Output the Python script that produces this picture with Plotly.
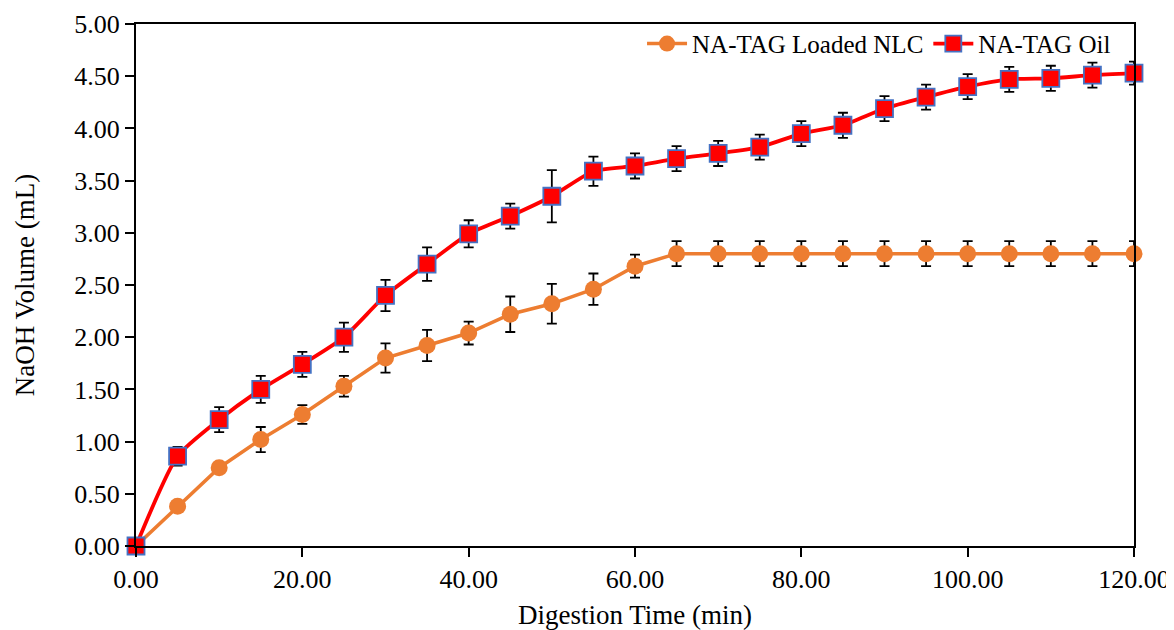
import plotly.graph_objects as go

time_min = [0, 5, 10, 15, 20, 25, 30, 35, 40, 45, 50, 55, 60, 65, 70, 75, 80, 85, 90, 95, 100, 105, 110, 115, 120]

nlc_vol = [0.00, 0.38, 0.75, 1.02, 1.26, 1.53, 1.80, 1.92, 2.04, 2.22, 2.32, 2.46, 2.68, 2.80, 2.80, 2.80, 2.80, 2.80, 2.80, 2.80, 2.80, 2.80, 2.80, 2.80, 2.80]
nlc_err = [0.00, 0.00, 0.00, 0.12, 0.09, 0.10, 0.14, 0.15, 0.11, 0.17, 0.19, 0.15, 0.11, 0.12, 0.12, 0.12, 0.12, 0.12, 0.12, 0.12, 0.12, 0.12, 0.12, 0.12, 0.12]

oil_vol = [0.00, 0.86, 1.21, 1.50, 1.74, 2.00, 2.40, 2.70, 2.99, 3.16, 3.35, 3.59, 3.64, 3.71, 3.76, 3.82, 3.95, 4.03, 4.19, 4.30, 4.40, 4.47, 4.48, 4.51, 4.53]
oil_err = [0.00, 0.09, 0.12, 0.13, 0.12, 0.14, 0.15, 0.16, 0.13, 0.12, 0.25, 0.14, 0.12, 0.12, 0.12, 0.12, 0.12, 0.12, 0.12, 0.12, 0.12, 0.12, 0.12, 0.12, 0.11]

x_ticks = [0, 20, 40, 60, 80, 100, 120]
y_ticks = [0, 0.5, 1, 1.5, 2, 2.5, 3, 3.5, 4, 4.5, 5]

x_title = "Digestion Time (min)"
y_title = "NaOH Volume (mL)"

FONT = "Liberation Serif, Times New Roman, serif"

fig = go.Figure()

fig.add_trace(go.Scatter(
    x=time_min, y=nlc_vol, name="NA-TAG Loaded NLC",
    mode="lines+markers",
    line=dict(color="#ED7D31", width=3.5),
    marker=dict(symbol="circle", size=17, color="#ED7D31"),
    error_y=dict(type="data", array=nlc_err, visible=True, color="black", thickness=1.8, width=5),
    cliponaxis=False,
))

fig.add_trace(go.Scatter(
    x=time_min, y=oil_vol, name="NA-TAG Oil",
    mode="lines+markers",
    line=dict(color="#FF0000", width=3.8, shape="spline", smoothing=0.6),
    marker=dict(symbol="square", size=17, color="#FF0000", line=dict(color="#4472C4", width=1.8)),
    error_y=dict(type="data", array=oil_err, visible=True, color="black", thickness=1.8, width=5),
    cliponaxis=False,
))

# page body has an 8px margin: figure sized/offset so the plot area lands at x 136..1134, y 24..546
fig.update_layout(
    width=1166, height=622,
    margin=dict(l=128, r=40, t=16, b=84),
    plot_bgcolor="white", paper_bgcolor="white",
    font=dict(family=FONT, size=24, color="black"),
    legend=dict(
        orientation="h", x=0.982, xanchor="right", y=0.962, yanchor="middle",
        bgcolor="rgba(0,0,0,0)", font=dict(family=FONT, size=25, color="black"),
        itemwidth=40,
    ),
    xaxis=dict(
        range=[0, 120], tickvals=x_ticks, tickformat=".2f",
        showgrid=False, zeroline=False, automargin=False,
        showline=True, linecolor="black", linewidth=2, mirror=True,
        ticks="outside", ticklen=9, tickwidth=1.5, tickcolor="black",
        tickfont=dict(family=FONT, size=26),
    ),
    yaxis=dict(
        range=[0, 5], tickvals=y_ticks, tickformat=".2f",
        showgrid=False, zeroline=False, automargin=False,
        showline=True, linecolor="black", linewidth=2, mirror=True,
        ticks="outside", ticklen=9, tickwidth=1.5, tickcolor="black",
        tickfont=dict(family=FONT, size=26),
    ),
    annotations=[
        dict(text=x_title, xref="paper", yref="paper", x=0.5, y=-0.132,
             xanchor="center", yanchor="middle", showarrow=False,
             font=dict(family=FONT, size=27, color="black")),
        dict(text=y_title, xref="paper", yref="paper", x=-0.111, y=0.5,
             xanchor="center", yanchor="middle", showarrow=False, textangle=-90,
             font=dict(family=FONT, size=27, color="black")),
    ],
)

fig.write_html("out.html")
